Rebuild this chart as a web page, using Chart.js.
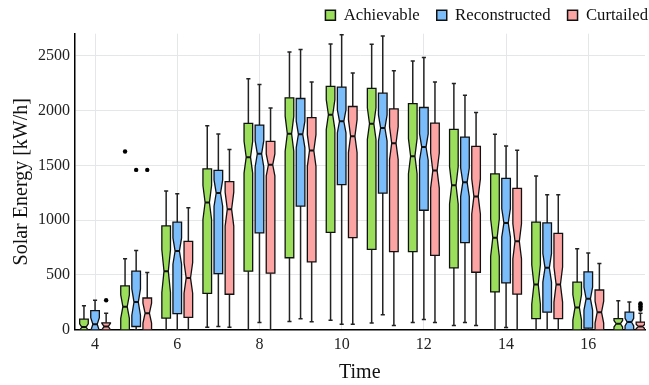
<!DOCTYPE html>
<html>
<head>
<meta charset="utf-8">
<script src="https://cdn.jsdelivr.net/npm/chart.js@4.4.0/dist/chart.umd.min.js"></script>
<style>
  html, body { margin: 0; padding: 0; background: #fff; }
</style>
</head>
<body>
<canvas id="chart" width="649" height="385"></canvas>
<script>
// hours of the day on the x axis
const hours = [4, 5, 6, 7, 8, 9, 10, 11, 12, 13, 14, 15, 16, 17];
const xTickLabels = [4, 6, 8, 10, 12, 14, 16];
const yTickLabels = [0, 500, 1000, 1500, 2000, 2500];
const seriesNames = ['Achievable', 'Reconstructed', 'Curtailed'];

// box stats per hour: [lower whisker, Q1, median, Q3, upper whisker]
const achievable = [
  [0, 0, 25, 97, 220], [0, 0, 211, 400, 648], [0, 107, 535, 947, 1265],
  [24, 333, 1161, 1467, 1861], [0, 535, 1574, 1883, 2289], [76, 657, 1788, 2115, 2534],
  [88, 889, 1962, 2219, 2607], [61, 734, 1880, 2201, 2604], [67, 712, 1583, 2063, 2451],
  [39, 565, 1317, 1828, 2247], [0, 345, 840, 1421, 1782], [0, 101, 413, 981, 1403],
  [0, 0, 204, 434, 739], [0, 0, 55, 101, 266]
];
const reconstructed = [
  [0, 0, 51, 174, 269], [0, 30, 253, 535, 724], [0, 147, 718, 981, 1241],
  [30, 513, 1247, 1454, 1785], [67, 883, 1605, 1867, 2237], [101, 1128, 1782, 2109, 2555],
  [51, 1323, 1901, 2213, 2690], [138, 1247, 1840, 2158, 2678], [95, 1090, 1666, 2027, 2482],
  [67, 794, 1345, 1757, 2139], [21, 427, 975, 1381, 1675], [0, 161, 565, 975, 1232],
  [0, 15, 284, 528, 700], [0, 0, 70, 161, 253]
];
const curtailed = [
  [0, 0, 30, 64, 152], [0, 0, 152, 290, 523], [0, 113, 473, 807, 1112],
  [24, 324, 1100, 1351, 1644], [0, 516, 1504, 1718, 2023], [73, 620, 1635, 1935, 2259],
  [51, 840, 1766, 2036, 2341], [39, 712, 1702, 2014, 2362], [67, 679, 1452, 1885, 2259],
  [39, 525, 1216, 1672, 1981], [0, 326, 807, 1290, 1638], [0, 101, 413, 880, 1232],
  [0, 0, 161, 363, 605], [0, 0, 30, 70, 150]
];

// notch half-height around the median (confidence interval)
const achievableNotch   = [30, 107, 195, 155, 145, 160, 137, 145, 160, 170, 170, 180, 115, 30];
const reconstructedNotch = [60, 120, 120, 120, 120, 120, 105, 120, 120, 130, 130, 130, 105, 35];
const curtailedNotch    = [30, 90, 140, 155, 100, 145, 150, 150, 160, 160, 160, 160, 100, 20];

// outliers: [hour, value]
const achievableOutliers = [[5, 1626]];
const reconstructedOutliers = [[5, 1458]];
const curtailedOutliers = [[4, 269], [5, 1458], [17, 185], [17, 200], [17, 215], [17, 230], [17, 240]];

const COLORS = ['#9bde5c', '#7bbcfb', '#fca3a3'];
const OFFSETS = [-0.27, 0, 0.27];   // dodge within an hour
const BOX_W = 0.21;
const CAP_W = 0.1;
const SERIF = "'Liberation Serif', 'DejaVu Serif', serif";

const groups = [
  { stats: achievable, notch: achievableNotch, outliers: achievableOutliers },
  { stats: reconstructed, notch: reconstructedNotch, outliers: reconstructedOutliers },
  { stats: curtailed, notch: curtailedNotch, outliers: curtailedOutliers }
];

// notched boxes, drawn through the chart's own scales
const notchedBoxes = {
  id: 'notchedBoxes',
  afterLayout(chart) {
    // legend sits flush with the right edge, like the original
    const lg = chart.legend;
    lg.left += 16.5;
    lg.right += 16.5;
    if (lg.lineWidths && lg.lineWidths.length) lg.lineWidths[0] += 0.5;  // float slack, keep one row
  },
  beforeDatasetsDraw(chart) {
    const { ctx, chartArea: a, scales: { x, y } } = chart;
    ctx.save();
    ctx.beginPath();
    ctx.rect(a.left, a.top, a.right - a.left, a.bottom - a.top);
    ctx.clip();
    groups.forEach((g, gi) => {
      g.stats.forEach((s, i) => {
        const cx = hours[i] + OFFSETS[gi];
        const xl = x.getPixelForValue(cx - BOX_W / 2);
        const xr = x.getPixelForValue(cx + BOX_W / 2);
        const xm = x.getPixelForValue(cx);
        const cw = x.getPixelForValue(cx + CAP_W / 2) - xm;
        const inset = (xr - xl) * 0.25;
        const [lo, q1, md, q3, hi] = s.map(v => y.getPixelForValue(v));
        const nTop = y.getPixelForValue(s[2] + g.notch[i]);
        const nBot = y.getPixelForValue(s[2] - g.notch[i]);

        // whiskers + caps
        ctx.strokeStyle = '#222';
        ctx.lineWidth = 1.5;
        ctx.beginPath();
        ctx.moveTo(xm, q3); ctx.lineTo(xm, hi);
        ctx.moveTo(xm - cw, hi); ctx.lineTo(xm + cw, hi);
        ctx.moveTo(xm, q1); ctx.lineTo(xm, lo);
        ctx.moveTo(xm - cw, lo); ctx.lineTo(xm + cw, lo);
        ctx.stroke();

        // box with notch
        ctx.beginPath();
        ctx.moveTo(xl, q3);
        ctx.lineTo(xr, q3);
        ctx.lineTo(xr, nTop);
        ctx.lineTo(xr - inset, md);
        ctx.lineTo(xr, nBot);
        ctx.lineTo(xr, q1);
        ctx.lineTo(xl, q1);
        ctx.lineTo(xl, nBot);
        ctx.lineTo(xl + inset, md);
        ctx.lineTo(xl, nTop);
        ctx.closePath();
        ctx.fillStyle = COLORS[gi];
        ctx.fill();
        ctx.strokeStyle = '#111';
        ctx.lineWidth = 1.3;
        ctx.lineJoin = 'miter';
        ctx.stroke();

        // median
        ctx.lineWidth = 2;
        ctx.beginPath();
        ctx.moveTo(xl + inset, md);
        ctx.lineTo(xr - inset, md);
        ctx.stroke();
      });
    });
    ctx.restore();
  }
};

const datasets = seriesNames.map((name, gi) => ({
  label: name,
  data: groups[gi].stats.map((s, i) => ({ x: hours[i] + OFFSETS[gi], y: s[2] })),
  backgroundColor: COLORS[gi],
  borderColor: '#111',
  borderWidth: 1.5,
  pointRadius: 0
}));

datasets.push({
  label: 'outliers',
  data: groups.flatMap((g, gi) => g.outliers.map(o => ({ x: o[0] + OFFSETS[gi], y: o[1] }))),
  backgroundColor: '#000',
  borderWidth: 0,
  pointRadius: 2.2
});

new Chart(document.getElementById('chart'), {
  type: 'scatter',
  data: { datasets },
  plugins: [notchedBoxes],
  options: {
    responsive: false,
    animation: false,
    events: [],
    layout: { padding: { left: 9.5, right: 0, top: -10, bottom: 0 } },
    plugins: {
      tooltip: { enabled: false },
      legend: {
        position: 'top',
        align: 'end',
        labels: {
          boxWidth: 10,
          boxHeight: 10,
          padding: 17,
          color: '#111',
          font: { family: SERIF, size: 16.7 },
          filter: item => item.text !== 'outliers'
        }
      }
    },
    scales: {
      x: {
        type: 'linear',
        min: 3.5,
        max: 17.38,
        afterBuildTicks: axis => { axis.ticks = xTickLabels.map(v => ({ value: v })); },
        ticks: { color: '#222', font: { family: SERIF, size: 16 }, padding: 5, callback: v => String(v) },
        grid: { color: '#e4e6e8', drawTicks: false },
        border: { color: '#000', width: 1.5 },
        title: { display: true, text: 'Time', color: '#111', font: { family: SERIF, size: 20 }, padding: { top: 2, bottom: 0 } }
      },
      y: {
        type: 'linear',
        min: 0,
        max: 2700,
        afterBuildTicks: axis => { axis.ticks = yTickLabels.map(v => ({ value: v })); },
        ticks: { color: '#222', font: { family: SERIF, size: 16 }, padding: 4.5, callback: v => String(v) },
        grid: { color: '#e4e6e8', drawTicks: false },
        border: { color: '#000', width: 1.5 },
        title: { display: true, text: 'Solar Energy [kW/h]', color: '#111', font: { family: SERIF, size: 20 }, padding: { top: 0, bottom: 0 } }
      }
    }
  }
});
</script>
</body>
</html>
